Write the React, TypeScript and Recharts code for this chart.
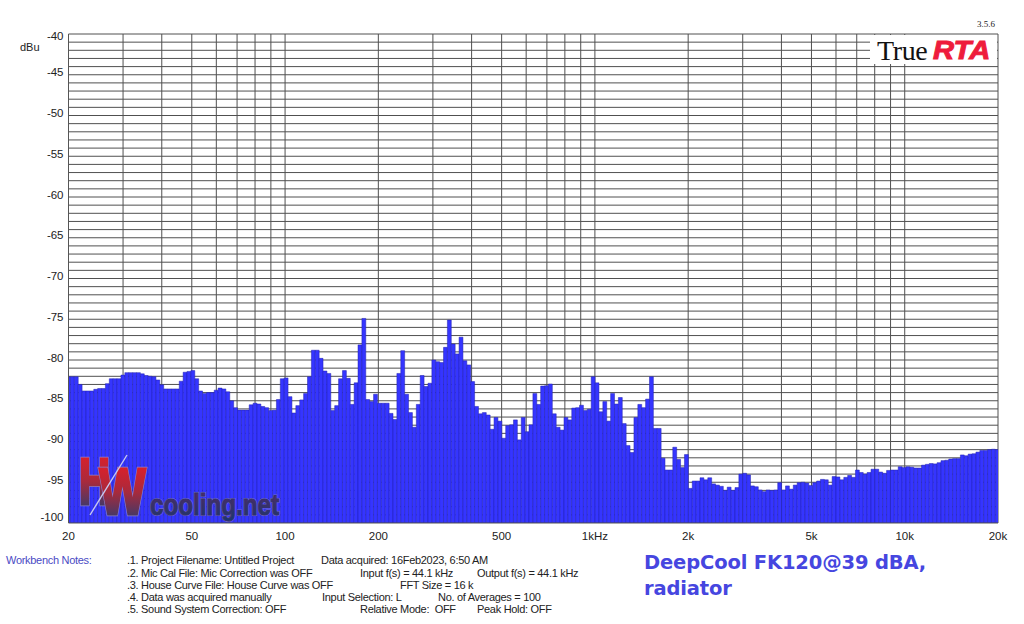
import { Bar, BarChart, CartesianGrid, XAxis, YAxis } from "recharts";

// 1/24 octave analyser bands, starting at 20 Hz
const LEVELS = [
  -82.05, -82.05, -82.05, -83.0, -83.8, -83.8, -83.8, -83.6, -83.5, -83.5, -82.9, -82.3,
  -82.3, -82.3, -81.85, -81.55, -81.55, -81.55, -81.55, -81.7, -81.9, -82.0, -82.05, -82.45,
  -83.05, -83.55, -83.55, -83.55, -83.55, -82.6, -81.5, -81.4, -81.3, -82.3, -83.8, -84.1,
  -84.0, -84.0, -83.7, -83.45, -83.55, -83.9, -85.0, -85.85, -86.15, -86.15, -86.15, -85.5,
  -85.3, -85.4, -85.7, -85.85, -86.2, -86.15, -84.85, -82.3, -82.2, -84.5, -86.5, -85.6,
  -84.9, -84.1, -82.05, -78.8, -78.8, -79.8, -81.35, -81.65, -86.2, -85.6, -82.3, -81.3,
  -82.25, -85.45, -82.8, -78.15, -74.9, -84.85, -85.1, -84.2, -85.3, -85.3, -85.3, -86.55,
  -87.3, -81.65, -78.85, -84.2, -86.45, -88.25, -85.45, -81.9, -83.25, -82.85, -80.0, -80.2,
  -80.3, -78.45, -75.1, -78.05, -79.25, -77.2, -80.1, -80.6, -82.65, -85.7, -86.6, -86.45,
  -86.75, -88.5, -87.05, -87.5, -89.6, -88.05, -87.95, -87.35, -89.8, -87.05, -88.8, -87.95,
  -84.1, -85.45, -83.2, -83.15, -82.95, -86.6, -88.25, -88.6, -87.05, -87.35, -85.9, -85.85,
  -85.55, -86.2, -86.05, -82.05, -82.8, -86.35, -85.1, -87.5, -84.1, -85.4, -84.6, -87.8,
  -90.5, -91.35, -87.05, -85.45, -85.85, -84.8, -82.05, -88.4, -88.4, -92.05, -93.5, -93.5,
  -90.7, -92.2, -93.2, -91.6, -95.75, -94.85, -94.85, -94.45, -94.7, -94.45, -95.2, -95.35,
  -95.5, -96.0, -95.6, -96.0, -95.65, -94.0, -93.9, -94.1, -95.45, -95.55, -95.95, -96.15,
  -95.95, -96.0, -95.95, -95.05, -95.95, -95.45, -95.85, -95.35, -95.05, -95.0, -95.1, -95.4,
  -95.05, -94.85, -94.65, -94.7, -95.35, -94.3, -94.35, -94.7, -94.4, -94.15, -94.4, -93.5,
  -93.8, -94.0, -93.8, -93.4, -93.4, -93.75, -93.9, -93.55, -93.5, -93.5, -93.1, -93.2,
  -93.1, -93.15, -93.25, -93.25, -92.9, -92.8, -92.7, -92.75, -92.6, -92.35, -92.3, -92.15,
  -92.1, -92.1, -91.65, -91.75, -91.55, -91.5, -91.3, -91.1, -91.1, -91.0, -90.95, -91.0,
  -91.0,
];

const FREQ_TICKS = [20, 50, 100, 200, 500, 1000, 2000, 5000, 10000, 20000];
const FREQ_GRID = [
  20, 30, 40, 50, 60, 70, 80, 90, 100, 200, 300, 400, 500, 600, 700, 800, 900, 1000,
  2000, 3000, 4000, 5000, 6000, 7000, 8000, 9000, 10000, 20000,
];
const DB_TICKS = [-40, -45, -50, -55, -60, -65, -70, -75, -80, -85, -90, -95, -100];
const DB_GRID = Array.from({ length: 60 }, (_, i) => -40 - i);

const FLOOR = -100;
const data = LEVELS.map((level, i) => ({ freq: 20 * 2 ** (i / 24), level }));

const SANS = "'Liberation Sans', Arial, sans-serif";
const SERIF = "'Liberation Serif', 'Times New Roman', serif";

function freqLabel(v: number) {
  if (v === 1000) return "1kHz";
  return v >= 1000 ? `${v / 1000}k` : `${v}`;
}

function DbTick({ x, y, payload }: any) {
  // labels sit slightly above their line, the two end ones are pushed inside
  const v = payload.value;
  const dy = v === -40 ? 2 : v === -100 ? -6 : -2.5;
  return (
    <text x={x + 3} y={y + dy} dy={4} textAnchor="end" fontFamily={SANS} fontSize={11.5} fill="#222">
      {v}
    </text>
  );
}

function Note({ x, y, children, color = "#222" }: any) {
  return (
    <div
      style={{
        position: "absolute",
        left: x,
        top: y,
        fontFamily: SANS,
        fontSize: 11,
        lineHeight: "12px",
        letterSpacing: -0.3,
        whiteSpace: "pre",
        color,
      }}
    >
      {children}
    </div>
  );
}

function BigLetter({ x, y, width, children }: any) {
  return (
    <>
      <text x={x} y={y} fontFamily={SANS} fontWeight="bold" fontSize={64} fill="#8a7fd0" stroke="#8a7fd0" strokeWidth={4.5} textLength={width} lengthAdjust="spacingAndGlyphs">
        {children}
      </text>
      <text x={x} y={y} fontFamily={SANS} fontWeight="bold" fontSize={64} fill="url(#hw)" stroke="url(#hw)" strokeWidth={3} textLength={width} lengthAdjust="spacingAndGlyphs">
        {children}
      </text>
    </>
  );
}

function Watermark() {
  return (
    <svg width={400} height={90} style={{ position: "absolute", left: 0, top: 440 }}>
      <defs>
        <linearGradient id="hw" x1="0" y1="0" x2="0" y2="1">
          <stop offset="0" stopColor="#ee1c25" />
          <stop offset="0.5" stopColor="#a82a3c" />
          <stop offset="1" stopColor="#16407a" />
        </linearGradient>
        <linearGradient id="net" x1="0" y1="0" x2="0" y2="1">
          <stop offset="0" stopColor="#5a2a62" />
          <stop offset="1" stopColor="#18386e" />
        </linearGradient>
      </defs>
      <BigLetter x={79} y={63.5} width={31}>H</BigLetter>
      <BigLetter x={99.5} y={74} width={46}>W</BigLetter>
      <line x1={90} y1={75} x2={127} y2={15} stroke="#c8c8f0" strokeWidth={1.4} />
      <text x={150} y={75} fontFamily={SANS} fontWeight="bold" fontSize={29} fill="url(#net)" stroke="#7068d0" strokeWidth={2.2} textLength={129} lengthAdjust="spacingAndGlyphs">
        cooling.net
      </text>
      <text x={150} y={75} fontFamily={SANS} fontWeight="bold" fontSize={29} fill="url(#net)" stroke="#33306e" strokeWidth={1} textLength={129} lengthAdjust="spacingAndGlyphs">
        cooling.net
      </text>
    </svg>
  );
}

function Logo() {
  return (
    <>
      <div style={{ position: "absolute", left: 870, top: 35, width: 127, height: 29, background: "#fff" }} />
      <div style={{ position: "absolute", left: 877, top: 35, fontFamily: SERIF, fontSize: 28, lineHeight: "32px", color: "#111", letterSpacing: -0.4 }}>
        True
      </div>
      <div style={{ position: "absolute", left: 933, top: 35, fontFamily: SANS, fontSize: 26, lineHeight: "30px", fontWeight: "bold", fontStyle: "italic", color: "#ee1c3c", WebkitTextStroke: "1px #ee1c3c", transform: "scaleX(1.12)", transformOrigin: "left" }}>
        RTA
      </div>
      <div style={{ position: "absolute", left: 977, top: 19, fontFamily: SERIF, fontSize: 9, lineHeight: "10px", color: "#222" }}>
        3.5.6
      </div>
    </>
  );
}

export default function App() {
  return (
    <div style={{ position: "absolute", left: 0, top: 0, width: 1024, height: 624, background: "#fff", overflow: "hidden" }}>
      <BarChart
        width={1024}
        height={624}
        data={data}
        barGap={0}
        margin={{ top: 34, right: 26, bottom: 71, left: 28.5 }}
      >
        <CartesianGrid
          stroke="#505050"
          strokeWidth={1}
          horizontalValues={DB_GRID}
          verticalValues={FREQ_GRID}
        />
        <XAxis
          dataKey="freq"
          type="number"
          scale="log"
          domain={[20, 20000]}
          allowDataOverflow
          ticks={FREQ_TICKS}
          interval={0}
          height={30}
          axisLine={{ stroke: "#555" }}
          tickLine={false}
          tickMargin={3}
          tickFormatter={freqLabel}
          tick={{ fontFamily: SANS, fontSize: 11.5, fill: "#222" }}
        />
        <YAxis
          type="number"
          domain={[FLOOR, -40]}
          allowDataOverflow
          ticks={DB_TICKS}
          interval={0}
          width={40}
          axisLine={{ stroke: "#555" }}
          tickLine={false}
          tick={<DbTick />}
        />
        <Bar
          dataKey={(d: any) => [FLOOR, d.level]}
          barSize={3.875}
          fill="#3535ff"
          stroke="#2020b0"
          strokeWidth={0.5}
          isAnimationActive={false}
        />
      </BarChart>

      <Watermark />
      <Logo />

      <div style={{ position: "absolute", left: 20, top: 41, fontFamily: SANS, fontSize: 11, lineHeight: "12px", color: "#222" }}>dBu</div>

      <Note x={6} y={554} color="#4a4ac4">Workbench Notes:</Note>
      <Note x={127} y={554}>.1. Project Filename: Untitled Project</Note>
      <Note x={321} y={554}>Data acquired: 16Feb2023, 6:50 AM</Note>
      <Note x={127} y={567}>.2. Mic Cal File: Mic Correction was OFF</Note>
      <Note x={360} y={567}>Input f(s) = 44.1 kHz</Note>
      <Note x={477} y={567}>Output f(s) = 44.1 kHz</Note>
      <Note x={127} y={579}>.3. House Curve File: House Curve was OFF</Note>
      <Note x={400} y={579}>FFT Size = 16 k</Note>
      <Note x={127} y={591}>.4. Data was acquired manually</Note>
      <Note x={322} y={591}>Input Selection: L</Note>
      <Note x={438} y={591}>No. of Averages = 100</Note>
      <Note x={127} y={603}>.5. Sound System Correction: OFF</Note>
      <Note x={360} y={603}>Relative Mode:  OFF</Note>
      <Note x={477} y={603}>Peak Hold: OFF</Note>

      <div style={{ position: "absolute", left: 644, top: 550, fontFamily: "'DejaVu Sans', sans-serif", fontWeight: "bold", fontSize: 19.5, lineHeight: "26px", letterSpacing: -0.15, color: "#4646e0" }}>
        DeepCool FK120@39 dBA,
        <br />
        radiator
      </div>
    </div>
  );
}
